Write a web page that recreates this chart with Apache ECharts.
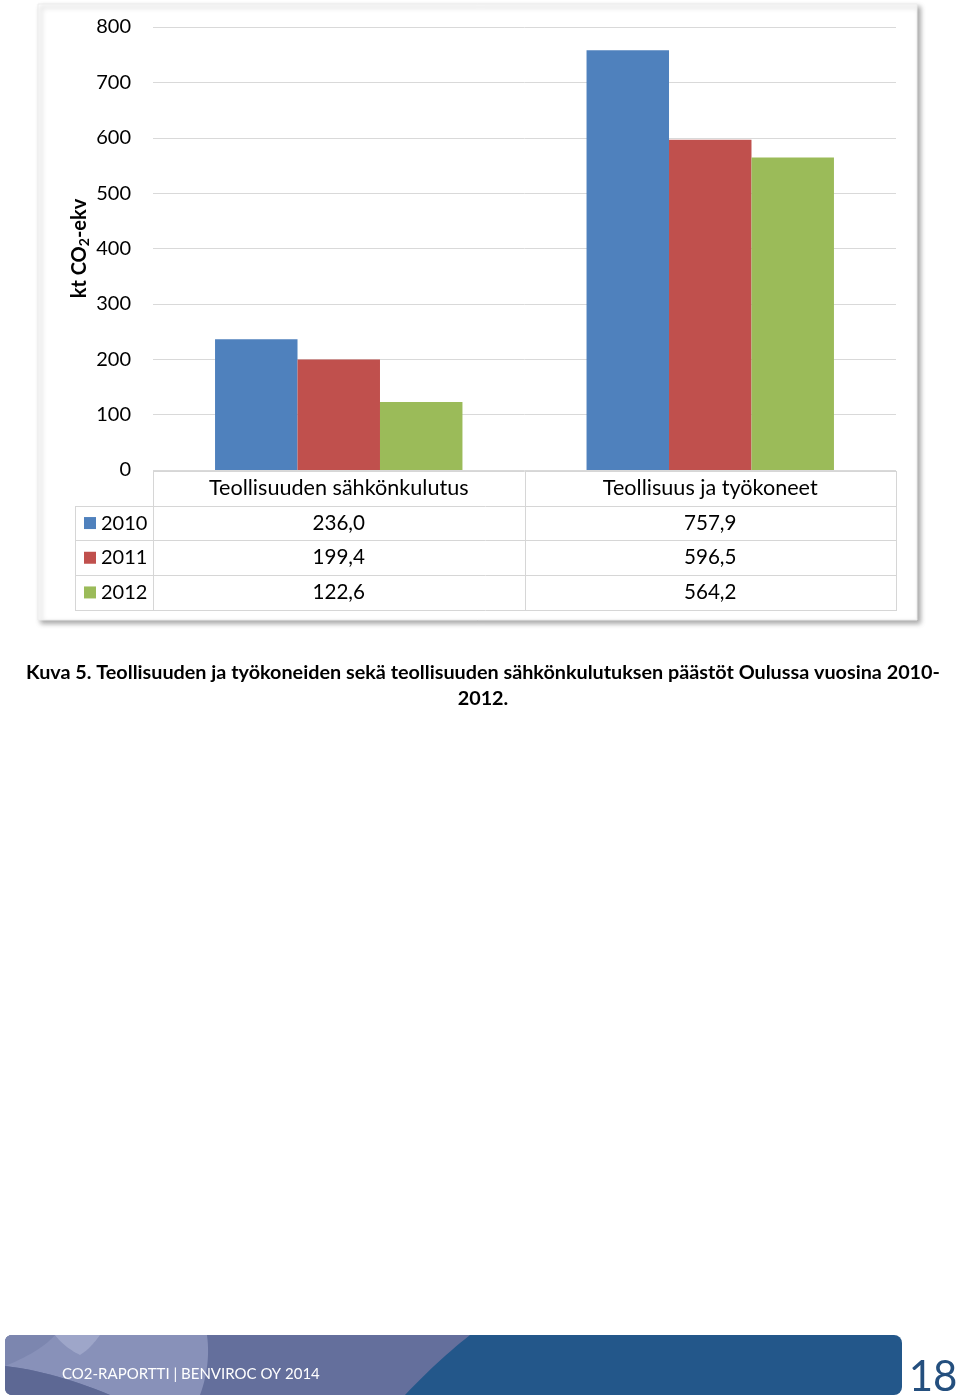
<!DOCTYPE html>
<html>
<head>
<meta charset="utf-8">
<script src="https://cdn.jsdelivr.net/npm/echarts@6/dist/echarts.min.js"></script>
<style>
  html, body { margin: 0; padding: 0; background: #ffffff; }
  #chart { width: 960px; height: 1399px; }
</style>
</head>
<body>
<div id="chart"></div>
<script>
// ---- data ----
const categories = ['Teollisuuden sähkönkulutus', 'Teollisuus ja työkoneet'];
const years = ['2010', '2011', '2012'];
const values2010 = [236.0, 757.9];
const values2011 = [199.4, 596.5];
const values2012 = [122.6, 564.2];
const yMin = 0, yMax = 800, yStep = 100;
const seriesColors = ['#4F81BD', '#C0504D', '#9BBB59'];
const captionLines = [
  'Kuva 5. Teollisuuden ja työkoneiden sekä teollisuuden sähkönkulutuksen päästöt Oulussa vuosina 2010-',
  '2012.'
];
const footerText = 'CO2-RAPORTTI | BENVIROC OY 2014';
const pageNumber = '18';

// ---- layout ----
const FONT = 'Lato, "Open Sans", sans-serif';
const W = 960, H = 1399;
const PLOT_L = 153, PLOT_R = 896, PLOT_T = 27, PLOT_B = 470;
const ROW_H = 34.7;
const TABLE_L = 75;
const LINE = '#d6d6d6';

const allSeries = [values2010, values2011, values2012];
const fmt = v => v.toFixed(1).replace('.', ',');

// sample a simple path (M, L, Q) into polygon points
function shapePoints(start, segs) {
  const pts = [start.slice()];
  let cur = start.slice();
  segs.forEach(s => {
    if (s[0] === 'L') { cur = [s[1], s[2]]; pts.push(cur); }
    else if (s[0] === 'Q') {
      const [_, cx, cy, x, y] = s;
      for (let i = 1; i <= 14; i++) {
        const t = i / 14, u = 1 - t;
        pts.push([u * u * cur[0] + 2 * u * t * cx + t * t * x, u * u * cur[1] + 2 * u * t * cy + t * t * y]);
      }
      cur = [x, y];
    }
  });
  return pts;
}

const chart = echarts.init(document.getElementById('chart'), null, { renderer: 'canvas' });

// table lines
const tableLines = [];
const colMid = (PLOT_L + PLOT_R) / 2;
const rowYs = [0, 1, 2, 3, 4].map(i => PLOT_B + 1 + i * ROW_H);
rowYs.forEach((y, i) => {
  tableLines.push({ type: 'line', z: 5, shape: { x1: i === 0 ? PLOT_L : TABLE_L, y1: Math.round(y) + 0.5, x2: PLOT_R, y2: Math.round(y) + 0.5 }, style: { stroke: LINE, lineWidth: 1 } });
});
[[TABLE_L, rowYs[1]], [PLOT_L, rowYs[0]], [Math.round(colMid), rowYs[0]], [PLOT_R, rowYs[0]]].forEach(([x, y0]) => {
  tableLines.push({ type: 'line', z: 5, shape: { x1: x + 0.5, y1: Math.round(y0), x2: x + 0.5, y2: Math.round(rowYs[4]) + 1 }, style: { stroke: LINE, lineWidth: 1 } });
});

// footer banner
const BY = 1335, BB = 1395, BX = 5, BR = 902;
const leftCorner = [['L', 13, BB], ['Q', 5, BB, 5, 1387], ['L', 5, 1343], ['Q', 5, BY, 13, BY]];
const banner = [
  { type: 'rect', z: 1, shape: { x: BX, y: BY, width: BR - BX, height: BB - BY, r: 8 }, style: { fill: '#23578A' } },
  { type: 'polygon', z: 2, shape: { points: shapePoints([13, BY], [['L', 470, BY], ['Q', 436, 1362, 405, BB]].concat(leftCorner)) }, style: { fill: '#646F9C' } },
  { type: 'polygon', z: 3, shape: { points: shapePoints([13, BY], [['L', 207, BY], ['Q', 211, 1365, 200, BB], ['L', 110, BB], ['Q', 55, 1372, 5, 1366], ['L', 5, 1343], ['Q', 5, BY, 13, BY]]) }, style: { fill: '#8891B9' } },
  { type: 'polygon', z: 3, shape: { points: shapePoints([13, BY], [['L', 55, BY], ['Q', 40, 1352, 5, 1366], ['L', 5, 1343], ['Q', 5, BY, 13, BY]]) }, style: { fill: '#7C86AF' } },
  { type: 'polygon', z: 4, shape: { points: shapePoints([55, BY], [['L', 100, BY], ['Q', 90, 1349, 80, 1355], ['Q', 64, 1347, 55, BY]]) }, style: { fill: '#9EA6C9' } },
  { type: 'polygon', z: 4, shape: { points: shapePoints([5, 1366], [['Q', 55, 1372, 110, BB], ['L', 13, BB], ['Q', 5, BB, 5, 1387]]) }, style: { fill: '#5D6894' } },
  { type: 'text', z: 6, style: { text: footerText, x: 62, y: 1374, fill: '#ffffff', font: `15px ${FONT}`, textVerticalAlign: 'middle' } },
  { type: 'text', z: 6, style: { text: pageNumber, x: 933, y: 1398, fill: '#244F7E', font: `42px ${FONT}`, textAlign: 'center', textVerticalAlign: 'bottom' } }
];

const caption = captionLines.map((t, i) => ({
  type: 'text', z: 6,
  style: { text: t, x: 483, y: 673 + i * 26, fill: '#000', font: `bold 19.8px ${FONT}`, textAlign: 'center', textVerticalAlign: 'middle' }
}));

const panel = {
  type: 'rect', z: -10,
  shape: { x: 38, y: 4, width: 879, height: 616 },
  style: { fill: '#ffffff', stroke: '#ececec', lineWidth: 1, shadowColor: 'rgba(0,0,0,0.35)', shadowBlur: 5, shadowOffsetX: 3, shadowOffsetY: 3 }
};

const option = {
  backgroundColor: '#ffffff',
  animation: false,
  textStyle: { fontFamily: FONT },
  grid: { left: PLOT_L, right: W - PLOT_R, top: PLOT_T, bottom: H - PLOT_B, containLabel: false },
  legend: {
    orient: 'vertical', left: 84, top: PLOT_B + 1 + ROW_H, padding: 0, itemGap: 0,
    itemWidth: 12, itemHeight: 12, icon: 'rect',
    textStyle: { fontSize: 20, color: '#000', lineHeight: ROW_H, fontFamily: FONT },
    data: years, selectedMode: false
  },
  xAxis: {
    type: 'category', data: categories,
    axisLine: { show: false }, axisTick: { show: false },
    axisLabel: {
      interval: 0, margin: 1, color: '#000', fontFamily: FONT,
      formatter: (v, idx) => ['{c|' + v + '}'].concat(allSeries.map(s => '{v|' + fmt(s[idx]) + '}')).join('\n'),
      rich: {
        c: { fontSize: 21.6, lineHeight: ROW_H, color: '#000', fontFamily: FONT },
        v: { fontSize: 20.6, lineHeight: ROW_H, color: '#000', fontFamily: FONT }
      }
    }
  },
  yAxis: {
    type: 'value', min: yMin, max: yMax, interval: yStep,
    axisLine: { show: false }, axisTick: { show: false },
    axisLabel: { fontSize: 20, color: '#000', margin: 22, fontFamily: FONT },
    splitLine: { lineStyle: { color: '#d9d9d9', width: 1 } },
    name: '{m|kt CO}{s|2}{m|-ekv}', nameLocation: 'middle', nameGap: 62, nameRotate: 90,
    nameMoveOverlap: false,
    nameTextStyle: {
      rich: {
        m: { fontSize: 20, fontWeight: 'bold', color: '#000', fontFamily: FONT },
        s: { fontSize: 14, fontWeight: 'bold', color: '#000', fontFamily: FONT, padding: [9, 0, 0, 0] }
      }
    }
  },
  series: years.map((y, i) => ({
    name: y, type: 'bar', data: allSeries[i],
    itemStyle: { color: seriesColors[i] },
    barGap: '0%', barCategoryGap: '33.4%'
  })),
  graphic: [panel].concat(tableLines, caption, banner)
};

chart.setOption(option);
</script>
</body>
</html>
